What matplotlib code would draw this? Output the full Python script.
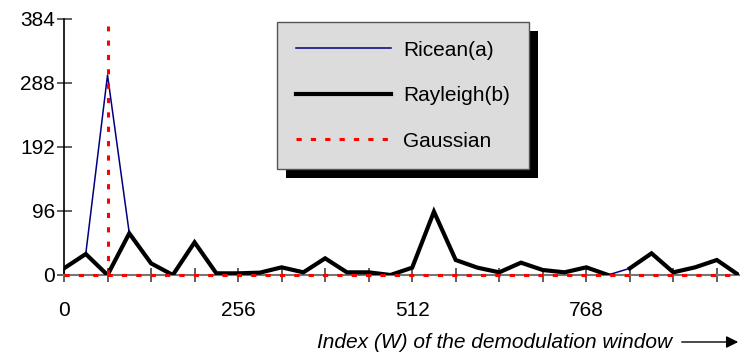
import numpy as np
import matplotlib.pyplot as plt
from matplotlib.patches import Rectangle

plt.rcParams['font.family'] = ['Liberation Sans', 'DejaVu Sans']

# index of the demodulation window
window = np.arange(0, 993, 32)

rayleigh = [10, 31.5, 0, 62.5, 17.5, 0, 49, 2.5, 2.5, 3.5, 11.5, 4, 25, 4, 4, 0,
            11, 95, 22.5, 11, 4, 18.5, 7.5, 4, 11.5, 0, 10, 32.5, 4, 11.5, 22.5, 0]
ricean = [10, 31.5, 300, 62.5, 17.5, 0, 49, 2.5, 2.5, 3.5, 11.5, 4, 25, 4, 4, 0,
          11, 95, 22.5, 11, 4, 18.5, 7.5, 4, 11.5, 0, 10, 32.5, 4, 11.5, 22.5, 0]
gauss_peak_x = 64
gauss_peak_y = 373
gap = 26  # rayleigh curve is broken between 800 and 832

fig = plt.figure(figsize=(7.42, 3.52), dpi=100)
ax = fig.add_axes([64 / 742, 77 / 352, 674.6 / 742, 256 / 352])

red_dots = (0, (1.7, 3))

ax.plot(window, ricean, color='#000080', lw=1.1, label='Ricean(a)', zorder=3)
ax.plot(window[:gap], rayleigh[:gap], color='black', lw=3, label='Rayleigh(b)',
        zorder=4, solid_joinstyle='miter')
ax.plot(window[gap:], rayleigh[gap:], color='black', lw=3, zorder=4,
        solid_joinstyle='miter')
ax.hlines(0, window[0], window[-1], colors='red', lw=2.2, linestyles=red_dots,
          zorder=6, clip_on=False)
ax.vlines(gauss_peak_x, 0, gauss_peak_y, colors='red', lw=2.2,
          linestyles=red_dots, label='Gaussian', zorder=6, clip_on=False)

ax.set_xlim(0, 992)
ax.set_ylim(0, 384)
ax.set_xticks([0, 256, 512, 768])
ax.set_xticks(np.arange(0, 993, 64), minor=True)
ax.set_yticks([0, 96, 192, 288, 384])
ax.tick_params(axis='x', which='both', direction='inout', length=10,
               width=1.2, color='#444444', pad=14, labelsize=15)
ax.tick_params(axis='y', direction='inout', length=10.8, width=1.2,
               color='#444444', pad=1, labelsize=15)
for s in ['top', 'right']:
    ax.spines[s].set_visible(False)
ax.spines['bottom'].set_color('#777777')
ax.spines['bottom'].set_linewidth(1.5)
ax.spines['left'].set_linewidth(1.2)

leg = ax.legend(loc='upper left', bbox_to_anchor=(277 / 742, 1 - 22 / 352),
                bbox_transform=fig.transFigure, borderaxespad=0, fontsize=15,
                handlelength=4.55, handletextpad=0.6, labelspacing=1.27,
                borderpad=0.9, fancybox=False, framealpha=1)
leg.get_frame().set_facecolor('#dcdcdc')
leg.get_frame().set_edgecolor('#555555')
leg.get_frame().set_linewidth(1.0)
leg.set_zorder(10)

fig.canvas.draw()
bb = leg.get_window_extent().transformed(ax.transAxes.inverted())
dx, dy = ax.transAxes.inverted().transform((9, 9)) - ax.transAxes.inverted().transform((0, 0))
ax.add_patch(Rectangle((bb.x0 + dx, bb.y0 - dy), bb.width, bb.height,
                       transform=ax.transAxes, facecolor='black',
                       edgecolor='none', zorder=9, clip_on=False))

fig.text(672 / 742, 1 - 342 / 352, 'Index (W) of the demodulation window',
         ha='right', va='center', fontsize=15, style='italic')
ax.annotate('', xy=(741 / 742, 1 - 342 / 352), xytext=(679 / 742, 1 - 342 / 352),
            xycoords='figure fraction', textcoords='figure fraction',
            arrowprops=dict(arrowstyle='-|>', color='black', lw=1.0,
                            mutation_scale=18))

fig.savefig('out.png', dpi=100)
